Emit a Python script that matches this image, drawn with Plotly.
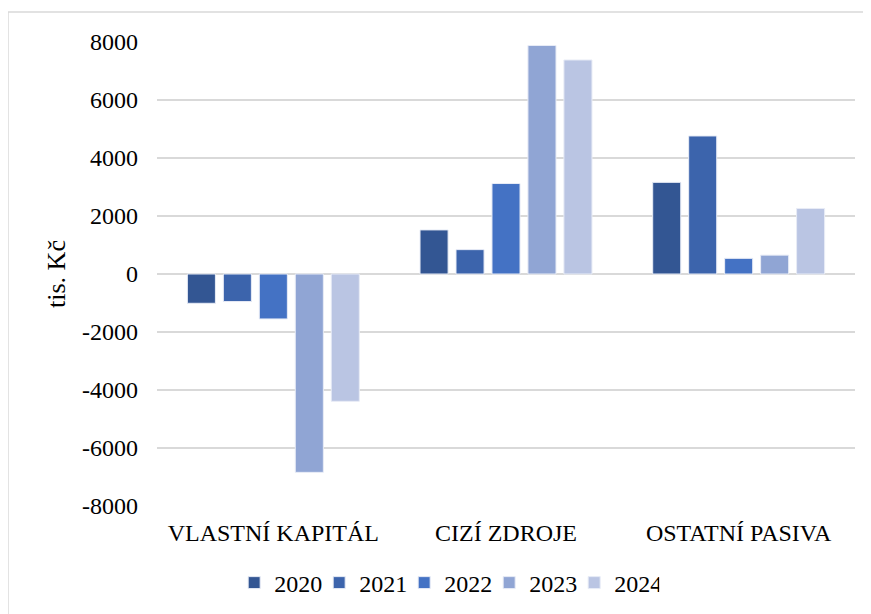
import plotly.graph_objects as go

categories = ["VLASTNÍ KAPITÁL", "CIZÍ ZDROJE", "OSTATNÍ PASIVA"]
years = ["2020", "2021", "2022", "2023", "2024"]
v2020 = [-1010, 1520, 3160]
v2021 = [-950, 840, 4760]
v2022 = [-1550, 3120, 540]
v2023 = [-6840, 7880, 650]
v2024 = [-4390, 7380, 2260]
y_ticks = [-8000, -6000, -4000, -2000, 0, 2000, 4000, 6000, 8000]
y_labels = [str(v) for v in y_ticks]

colors = ["#335693", "#3c64ac", "#4472c4", "#90a5d4", "#bac5e3"]
font_family = "Liberation Serif"

fig = go.Figure()
for year, vals, col in zip(years, [v2020, v2021, v2022, v2023, v2024], colors):
    fig.add_trace(go.Bar(x=categories, y=vals, name=year,
                         marker=dict(color=col, line=dict(color="#e8ecf6", width=1))))

# page has an 8px body margin, so margins are shifted a bit
fig.update_layout(
    width=871, height=614,
    barmode="group", bargap=0.227, bargroupgap=0.22,
    plot_bgcolor="white", paper_bgcolor="white",
    margin=dict(l=149, r=24, t=34, b=116),
    font=dict(family=font_family, size=24, color="black"),
    legend=dict(orientation="h", x=0.415, xanchor="center", y=-0.166, yanchor="middle",
                font=dict(family=font_family, size=24), traceorder="normal",
                entrywidth=40, entrywidthmode="pixels"),
    yaxis=dict(range=[-8000, 8000], tickvals=y_ticks, ticktext=y_labels, showgrid=True,
               gridcolor="#d9d9d9", gridwidth=2, zeroline=True, zerolinecolor="#d9d9d9",
               zerolinewidth=2, ticks="", ticklabelstandoff=18,
               tickfont=dict(family=font_family, size=24),
               title=dict(text="tis. Kč", font=dict(family=font_family, size=26), standoff=8)),
    xaxis=dict(showline=False, ticks="", ticklabelstandoff=10,
               tickfont=dict(family=font_family, size=24)),
    shapes=[dict(type="rect", xref="paper", yref="paper", x0=-0.2135, x1=1.03, y0=-0.25, y1=1.0647,
                 line=dict(color="#d9d9d9", width=1.5), fillcolor="rgba(0,0,0,0)", layer="below")],
)

fig.write_html("out.html")
